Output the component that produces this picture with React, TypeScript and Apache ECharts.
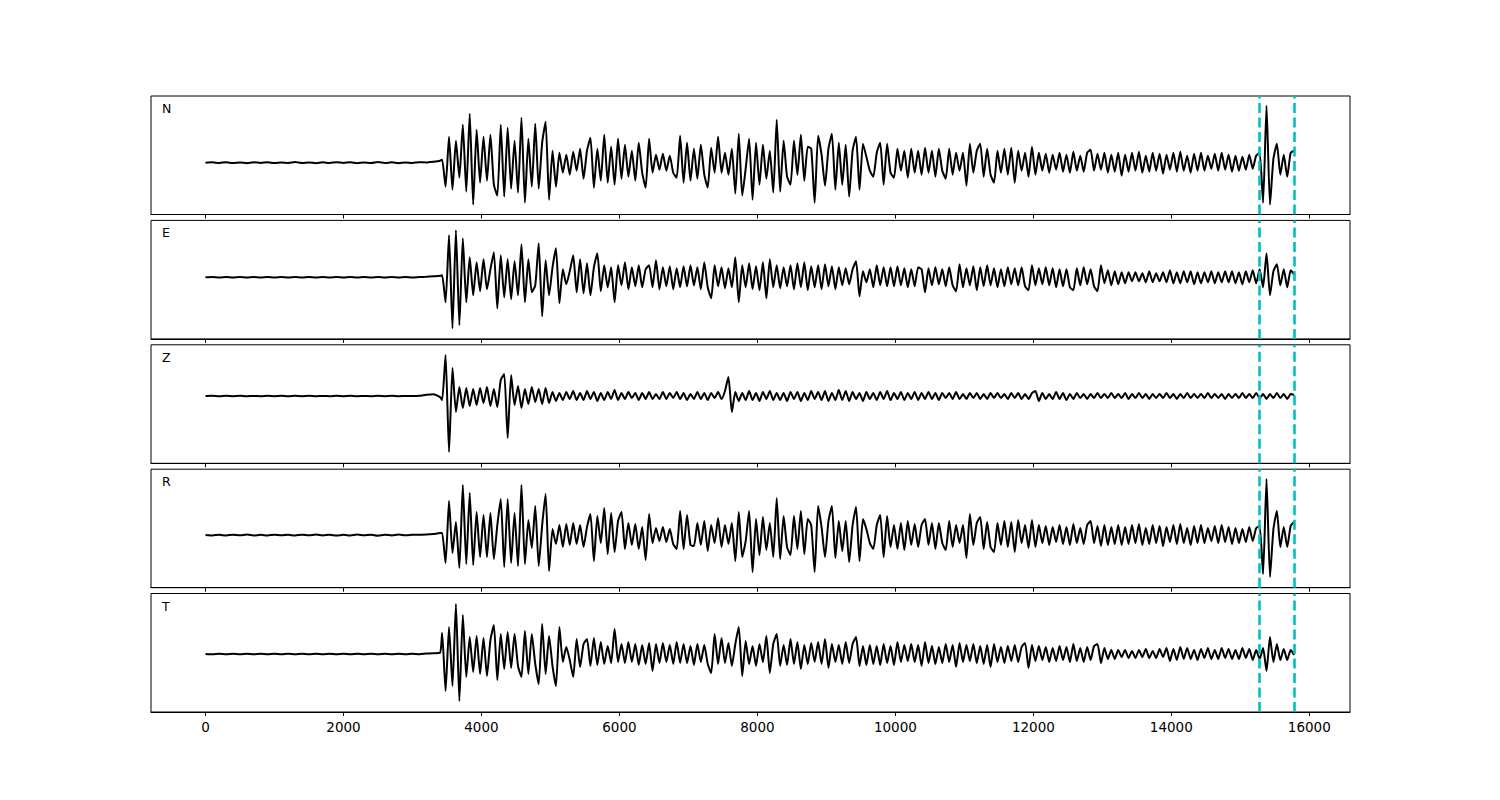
import React, { useEffect, useRef } from "react";
import * as echarts from "echarts";

// Component names (panel labels, top to bottom)
const componentNames = ["N", "E", "Z", "R", "T"];
// x tick values
const xTicks = [0, 2000, 4000, 6000, 8000, 10000, 12000, 14000, 16000];
// picked window (dashed cyan lines)
const pickTimes = [15280, 15780];

// sampling of the values below
const preStep = 100; // quiet part: t = 0, 100, ... 3400
const mainStart = 3430; // active part: t = 3430 + 50 * i
const mainStep = 50;

// ---- quiet, pre-event parts ----
const preN = [0, 0.4, -0.3, 0.5, -0.4, 0.3, -0.5, 0.4, -0.2, 0.5, -0.4, 0.3, -0.3, 0.6, -0.4, 0.2, -0.5, 0.4, -0.3, 0.5, -0.2, 0.4, -0.5, 0.3, -0.4, 0.6, -0.3, 0.4, -0.5, 0.3, -0.2, 0.5, 0.3, 1.0, 2.0];
const preE = [0, 0.3, -0.2, 0.3, -0.3, 0.2, -0.3, 0.3, -0.2, 0.3, -0.2, 0.2, -0.3, 0.3, -0.2, 0.3, -0.3, 0.2, -0.2, 0.3, -0.3, 0.2, -0.2, 0.3, -0.3, 0.2, -0.2, 0.3, -0.2, 0.3, -0.3, 0.2, 0.5, 1.0, 1.5];
const preZ = [0, 0.2, -0.2, 0.2, -0.1, 0.2, -0.2, 0.1, -0.2, 0.2, -0.1, 0.2, -0.2, 0.2, -0.1, 0.2, -0.2, 0.1, -0.2, 0.2, -0.1, 0.2, -0.2, 0.1, -0.2, 0.2, -0.1, 0.2, -0.2, 0.1, 0.0, 0.2, 1.2, 1.8, -1.0];
const preR = [0, -0.4, 0.3, -0.5, 0.4, -0.3, 0.5, -0.4, 0.2, -0.5, 0.4, -0.3, 0.3, -0.5, 0.4, -0.2, 0.5, -0.4, 0.3, -0.5, 0.2, -0.4, 0.5, -0.3, 0.4, -0.6, 0.3, -0.4, 0.5, -0.3, 0.2, 0.4, 0.5, 1.0, 2.0];
const preT = [0, -0.3, 0.2, -0.3, 0.3, -0.2, 0.3, -0.3, 0.2, -0.3, 0.2, -0.2, 0.3, -0.3, 0.2, -0.3, 0.3, -0.2, 0.2, -0.3, 0.3, -0.2, 0.2, -0.3, 0.3, -0.2, 0.2, -0.3, 0.2, -0.3, 0.3, -0.2, 0.4, 0.8, 1.2];

// ---- active parts (amplitudes) ----
const mainN = [
  3, -24, 26, -27, 22, -15, 38, -29, 49, -42,
  33, -20, 26, -18, 28, -22, -33, 38, -34, 35,
  -26, 22, -30, 45, -40, 24, -24, 39, -26, 20,
  41, -37, 12, -24, 10, -10, 8, -12, 11, -8,
  14, -16, 12, 25, -25, 14, -18, 28, -20, 16,
  -22, 24, -16, 18, -14, 12, -18, 20, -10, -25,
  24, -10, 8, -7, 9, -8, 7, -10, -15, 27,
  -20, 20, -18, 14, -16, 18, -12, -25, 15, -10,
  26, -10, 10, -12, 14, -31, 29, -33, -6, 24,
  -37, 20, -22, 18, -16, 12, -30, 43, -29, 22,
  -14, -22, 22, -12, 28, -18, 16, 14, -40, 27,
  8, -23, 14, 29, -27, 20, -22, 18, -34, 12,
  26, -27, 19, 6, -8, -14, 10, 20, -22, 19,
  -10, -15, 14, -8, 12, -15, 14, -10, 12, -12,
  15, -10, 12, -14, 14, -8, -16, 14, -12, 10,
  -8, 10, -23, 19, -10, 12, 19, -14, 14, -12,
  -20, 12, -10, 14, -12, 15, -20, 12, -8, 10,
  -14, 16, -12, 10, -8, 9, -10, 8, -7, 10,
  -9, 8, -10, 11, -8, 7, -9, 10, 13, -8,
  9, -7, 10, -10, 8, -9, 10, -13, 8, -9,
  10, -8, 11, -10, 7, -9, 10, -8, 9, -11,
  8, -7, 10, -9, 11, -8, 7, -10, 9, -8,
  10, -8, 7, -6, 9, -8, 10, -7, 8, -9,
  7, -8, 6, -7, 8, -6, 7, 10, -40, 57,
  -42, 4, 19, -12, 8, -14, 10, 12,
];
const mainE = [
  2, -25, 42, -51, 47, -48, 39, -25, 20, -18,
  15, -14, 18, -12, 8, 25, -31, 22, -20, 18,
  -22, 16, -18, 33, -25, 18, -15, -8, 34, -39,
  17, -18, 10, 29, -26, 8, -7, 6, 22, -15,
  18, -16, 14, -18, 10, 24, -14, 12, -10, 10,
  -25, 12, -8, 15, -12, 10, -9, 12, -10, 8,
  12, -10, 17, -12, 10, -9, 11, -12, 9, -10,
  11, -9, 12, -8, 10, -12, 15, -10, -21, 12,
  -9, 10, -11, 9, -10, 20, -25, 12, -10, 14,
  -12, 11, -13, 15, -21, 18, -10, 12, -11, 10,
  -9, 12, -12, 14, -10, 15, -13, 11, -10, 12,
  -12, 13, -9, 11, -12, 10, -8, 9, -7, 8,
  16, -19, 6, -5, 8, -10, 12, -8, 10, -9,
  10, -9, 11, -8, 9, -10, 8, -9, 10, 8,
  -15, 9, -8, 10, -7, 8, -9, 10, -8, -14,
  13, -10, 9, -8, 11, -13, 10, -9, 12, -8,
  9, -10, 8, -9, 10, -7, 9, -8, 10, -9,
  -13, 12, -8, 9, -7, 10, -8, 9, -10, 8,
  -9, 8, -10, -13, 9, -8, 10, -7, 8, -9,
  -14, 12, -6, 7, -8, 6, -7, 5, -6, 5,
  -4, 5, -4, 4, -5, 6, -5, 4, -4, 5,
  -5, 7, -6, 5, -6, 6, -5, 6, -7, 5,
  -6, 5, -5, 6, -6, 5, -5, 6, -5, 6,
  -6, 5, -7, 6, -5, 7, -6, 8, -10, 24,
  -18, 6, 13, -8, 8, -10, 7, 3,
];
const mainZ = [
  -4, 41, -56, 28, -16, 9, -12, 8, -10, 7,
  -9, 8, -7, 9, -10, 7, -11, 16, 22, -42,
  21, -9, 10, -12, 7, -8, 9, -6, 7, -8,
  8, -7, 4, -5, 3, -4, 4, -3, 5, -4,
  3, -4, 5, -3, 4, -5, 3, -4, 4, -3,
  6, -4, 3, -3, 4, -2, 3, -4, 3, -3,
  4, -3, 2, -3, 4, -3, 3, -2, 4, -3,
  3, -4, 2, -3, 4, -3, 3, -4, 3, -2,
  4, -3, 5, 19, -16, 4, -5, 3, -4, 5,
  -4, 3, -5, 4, -3, 5, -4, 3, -4, 3,
  -5, 4, -3, 4, -5, 3, -4, 5, -3, 4,
  -4, 5, -5, 3, -4, 6, -4, 5, -5, 4,
  -3, 3, -5, 4, -3, 3, -4, 4, -3, 5,
  -4, 3, -3, 4, -4, 3, -3, 4, -4, 3,
  -3, 4, -3, 3, -4, 3, -2, 3, -3, 4,
  -3, 2, -3, 3, -2, 3, -3, 2, -3, 3,
  -2, 3, -2, 2, -3, 3, -2, 3, -3, 2,
  -3, 3, 5, -5, 3, -3, 2, -3, 4, -3,
  3, -4, 2, -3, 3, -2, 2, -3, 2, -2,
  3, -2, 2, -2, 3, -2, 2, -2, 3, -3,
  2, -2, 3, -2, 2, -3, 2, -2, 2, -2,
  3, -2, 2, -3, 2, -2, 3, -2, 2, -2,
  2, -2, 3, -2, 2, -2, 2, -3, 2, -2,
  2, -2, 3, -2, 2, -2, 3, -2, 2, -3,
  2, -2, 3, -2, 2, -3, 2, 1,
];
const mainR = [
  2, -28, 34, -18, 13, -33, 50, -29, 42, -30,
  23, -22, 20, -22, 22, -24, 10, 36, -32, 36,
  -28, 22, -31, 50, -29, 15, -13, 29, -31, 10,
  41, -36, 6, -9, 10, -12, 11, -10, 12, -9,
  10, -12, 8, 21, -26, 19, -8, 27, -19, 22,
  -17, 14, 23, -14, 12, -10, 11, -14, 8, -25,
  21, -8, 7, -6, 8, -7, 6, -9, -14, 24,
  -14, 20, -10, -11, 12, -10, 14, -16, 10, -8,
  17, -12, 10, -9, 12, -26, 23, -22, -6, 24,
  -37, 16, -20, 18, -15, 12, -22, 37, -24, 19,
  -12, -20, 19, -14, 24, -19, 16, 10, -37, 29,
  8, -22, 14, 29, -23, 14, -16, 14, -27, 10,
  28, -26, 16, 6, -8, -14, 10, 20, -22, 19,
  -12, 10, -14, 12, -15, 14, -10, 11, -12, 10,
  16, -10, 12, -14, 12, -8, -15, 14, -12, 10,
  -8, 10, -23, 21, -10, 12, 18, -14, 13, -12,
  -17, 12, -10, 14, -12, 13, -17, 15, -8, 10,
  -13, 15, -12, 10, -8, 9, -10, 8, -7, 10,
  -9, 8, -10, 11, -8, 7, -9, 10, 14, -8,
  9, -11, 10, -10, 8, -9, 10, -10, 8, -9,
  10, -8, 11, -10, 7, -9, 10, -8, 9, -11,
  8, -7, 10, -9, 11, -8, 7, -10, 9, -8,
  10, -8, 7, -6, 9, -8, 10, -7, 8, -9,
  7, -8, 6, -7, 8, -6, 7, 9, -39, 56,
  -42, 6, 24, -12, 8, -12, 9, 13,
];
const mainT = [
  21, -37, 27, -32, 50, -47, 39, -23, 17, -18,
  18, -20, 16, -22, 14, 29, -26, 20, -15, 22,
  -14, 20, -12, -23, 23, -20, 20, -10, -30, 30,
  -20, 18, -12, -32, 27, -8, 7, -6, -23, 15,
  -13, 10, 15, -12, 16, -11, 12, -10, 8, -9,
  25, -8, 10, -9, 12, -8, 10, -11, 9, -10,
  11, -17, 10, -9, 11, -8, 9, -10, 12, -9,
  10, -9, 8, -11, 10, -8, 9, -10, -19, 20,
  -10, 16, -9, 11, -12, 10, 27, -22, 13, -10,
  8, -12, 10, -8, 18, -19, 10, 20, -12, 9,
  -11, 15, -10, 12, -15, 9, -10, 11, -8, 12,
  -10, 15, -14, 10, -8, 9, -10, 12, -9, 10,
  17, -12, 8, -11, 9, -10, 8, -11, 10, -9,
  8, -11, 12, -8, 9, -7, 10, -8, 9, -12,
  12, -9, 8, -10, 7, -9, 10, -8, 9, -13,
  11, -8, 9, -7, 10, -9, 8, -10, 9, -13,
  10, -8, 7, -9, 8, -7, 9, -8, 7, 11,
  -14, 9, -7, 8, -6, 7, -8, 6, -7, 8,
  -6, 7, -8, 10, -7, 6, -8, 7, -6, 8,
  10, -9, 6, -5, 4, -5, 4, -3, 4, -4,
  3, -4, 4, -3, 5, -4, 3, -4, 5, -3,
  6, -7, 5, -6, 7, -5, 6, -5, 4, -6,
  5, -4, 6, -5, 4, -5, 6, -4, 5, -5,
  4, -5, 6, -4, 5, -6, 4, -5, 6, -17,
  17, -8, 10, -6, 5, -6, 4, -1,
];

const preParts = [preN, preE, preZ, preR, preT];
const mainParts = [mainN, mainE, mainZ, mainR, mainT];

// layout (pixels) and per-panel amplitude limits
const panelTops = [96, 220.4, 344.8, 469.2, 593.5];
const panelHeight = 118.5;
const yLimits: [number, number][] = [
  [-51.8, 66.7],
  [-61.6, 56.9],
  [-67.2, 51.2],
  [-52.6, 65.8],
  [-58, 60.5],
];

function buildTrace(pre: number[], main: number[]): [number, number][] {
  const out: [number, number][] = [];
  pre.forEach((v, k) => out.push([k * preStep, v]));
  main.forEach((v, i) => out.push([mainStart + i * mainStep, v]));
  return out;
}

export default function App() {
  const ref = useRef<HTMLDivElement>(null);
  useEffect(() => {
    if (!ref.current) return;
    const chart = echarts.init(ref.current, undefined, { renderer: "svg" });
    const n = componentNames.length;
    const grid = panelTops.map((top) => ({
      left: 151,
      width: 1199,
      top,
      height: panelHeight,
      show: true,
      borderColor: "#000",
      borderWidth: 1,
      backgroundColor: "transparent",
      containLabel: false,
      outerBoundsMode: "none",
    }));
    const xAxis = componentNames.map((_, i) => ({
      type: "value",
      gridIndex: i,
      position: "bottom",
      min: -790,
      max: 16590,
      axisLine: { show: true, onZero: false, lineStyle: { color: "#000", width: 1 } },
      axisTick: {
        show: true,
        customValues: xTicks,
        length: 4,
        inside: false,
        lineStyle: { color: "#000", width: 1 },
      },
      axisLabel: {
        show: i === n - 1,
        customValues: xTicks,
        formatter: (v: number) => String(v),
        color: "#000",
        fontSize: 13.5,
        fontFamily: "DejaVu Sans",
        margin: 8,
      },
      splitLine: { show: false },
    }));
    const yAxis = componentNames.map((_, i) => ({
      type: "value",
      gridIndex: i,
      min: yLimits[i][0],
      max: yLimits[i][1],
      show: false,
      axisLine: { onZero: false },
      splitLine: { show: false },
    }));
    const series = componentNames.map((name, i) => ({
      name,
      type: "line",
      xAxisIndex: i,
      yAxisIndex: i,
      data: buildTrace(preParts[i], mainParts[i]),
      showSymbol: false,
      symbol: "none",
      smooth: 0.18,
      lineStyle: { color: "#000", width: 2, join: "round" },
      silent: true,
      markLine: {
        silent: true,
        symbol: ["none", "none"],
        label: { show: false },
        lineStyle: { color: "#00bfbf", width: 2.6, type: [10, 4.5] },
        data: pickTimes.map((t) => ({ xAxis: t })),
      },
    }));
    const graphic = componentNames.map((name, i) => ({
      type: "text",
      left: 162,
      top: panelTops[i] + 6,
      style: {
        text: name,
        fontSize: 12.5,
        fill: "#000",
        fontFamily: "DejaVu Sans",
      },
    }));
    chart.setOption({
      animation: false,
      backgroundColor: "#fff",
      grid,
      xAxis,
      yAxis,
      series,
      graphic,
    });
    return () => chart.dispose();
  }, []);
  return (
    <div
      ref={ref}
      style={{ position: "absolute", left: 0, top: 0, width: 1500, height: 800 }}
    />
  );
}
